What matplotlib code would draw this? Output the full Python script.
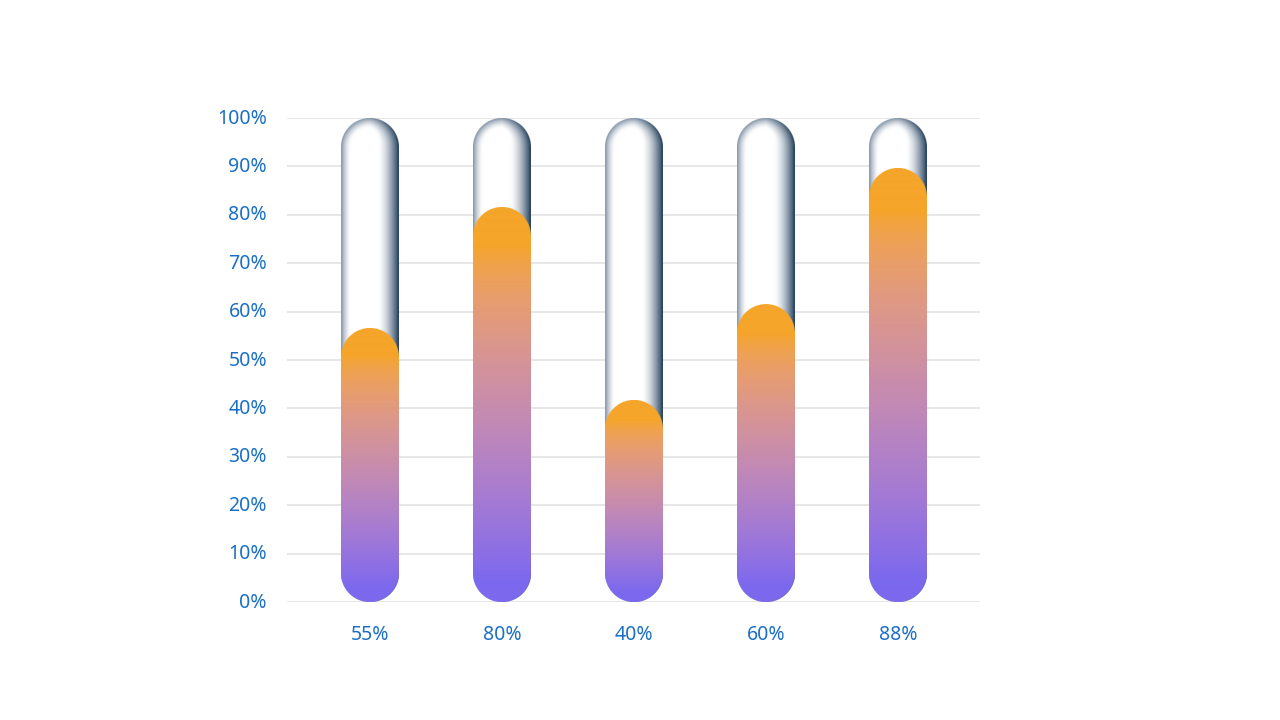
import numpy as np
import matplotlib
matplotlib.use('Agg')
import matplotlib.pyplot as plt
import matplotlib.transforms as mtransforms
from matplotlib.colors import to_rgb

plt.rcParams['font.family'] = ['Noto Sans', 'DejaVu Sans']

categories = ['55%', '80%', '40%', '60%', '88%']
values = [55, 80, 40, 60, 88]
y_ticks = [0, 10, 20, 30, 40, 50, 60, 70, 80, 90, 100]
y_labels = [f'{t}%' for t in y_ticks]

label_color = '#1a6fc8'
grid_color = '#e0e0e0'
purple = np.array(to_rgb('#7b68ee'))
orange = np.array(to_rgb('#f5a52a'))
edge_left = np.array(to_rgb('#8293a7'))
edge_right = np.array(to_rgb('#1f3c59'))

bar_px = 58      # width of each tube in pixels
over_px = 7.5    # fill cap sits a little above its value
ss = 3           # supersampling of the gradient images

fig = plt.figure(figsize=(12.8, 7.2), dpi=100)
fig.set_facecolor('white')
ax = fig.add_axes([287 / 1280, 118 / 720, 693 / 1280, 484 / 720])
ax.set_xlim(-0.629, 4.621)
ax.set_ylim(0, 100)
for s in ax.spines.values():
    s.set_visible(False)
ax.set_yticks(y_ticks)
ax.set_yticklabels(y_labels)
ax.set_xticks(range(len(categories)))
ax.set_xticklabels(categories)
ax.tick_params(length=0, labelsize=14, labelcolor=label_color)
ax.tick_params(axis='y', pad=14.4)
ax.tick_params(axis='x', pad=16.5)
ax.grid(axis='y', color=grid_color, linewidth=1.1)
ax.set_axisbelow(True)

# nudge y labels up a touch
shift = mtransforms.ScaledTranslation(0, 2 / 100, fig.dpi_scale_trans)
for lab in ax.get_yticklabels():
    lab.set_transform(lab.get_transform() + shift)

# pixels per data unit
p0 = ax.transData.transform((0, 0))
p1 = ax.transData.transform((1, 1))
sx, sy = p1 - p0
hw = bar_px / 2 / sx


def to_lin(c):
    return np.where(c <= 0.04045, c / 12.92, ((c + 0.055) / 1.055) ** 2.4)


def to_srgb(c):
    return np.where(c <= 0.0031308, c * 12.92, 1.055 * c ** (1 / 2.4) - 0.055)


def capsule(wpx, hpx):
    u = (np.arange(int(wpx * ss)) + 0.5) / ss
    v = (np.arange(int(round(hpx * ss))) + 0.5) / ss
    U, V = np.meshgrid(u, v)
    r = wpx / 2
    cy = np.clip(V, r, hpx - r)
    dx, dy = U - r, V - cy
    dist = np.hypot(dx, dy)
    d = r - dist
    alpha = np.clip(d * ss + 0.5, 0, 1)
    return U, V, d, dx / np.maximum(dist, 1e-6), alpha


def tube_image(wpx, hpx):
    U, V, d, nx, alpha = capsule(wpx, hpx)
    k = np.clip(nx, 0, 1)
    edge = edge_left * (1 - k)[..., None] + edge_right * k[..., None]
    L = 10 + 11 * k
    w = (np.clip(1 - d / L, 0, 1) ** 1.6)[..., None]
    rgb = (1 - w) + edge * w
    return np.dstack([rgb, alpha])


def fill_image(wpx, hpx):
    U, V, d, nx, alpha = capsule(wpx, hpx)
    t = np.clip((V / hpx - 0.05) / 0.85, 0, 1)[..., None]
    lin = to_lin(purple) * (1 - t) + to_lin(orange) * t
    rgb = np.clip(to_srgb(lin), 0, 1)
    return np.dstack([rgb, alpha])


tube = tube_image(bar_px, 100 * sy)
for i, val in enumerate(values):
    ax.imshow(tube, extent=[i - hw, i + hw, 0, 100], origin='lower',
              aspect='auto', interpolation='antialiased', zorder=2)
    top = val + over_px / sy
    ax.imshow(fill_image(bar_px, top * sy), extent=[i - hw, i + hw, 0, top],
              origin='lower', aspect='auto', interpolation='antialiased', zorder=3)

ax.set_xlim(-0.629, 4.621)
ax.set_ylim(0, 100)
fig.savefig('out.png', dpi=100, facecolor='white')
